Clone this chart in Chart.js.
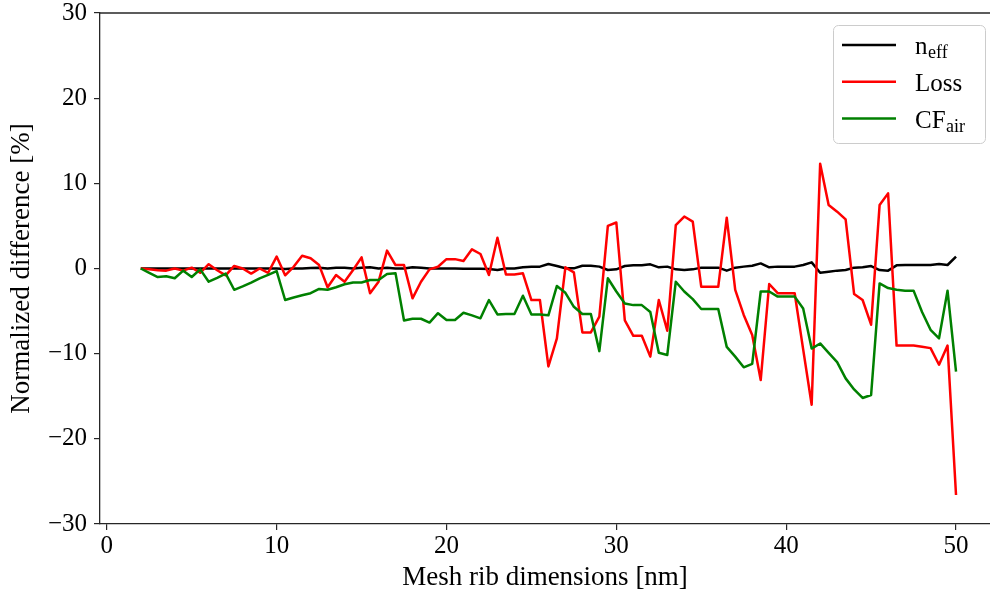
<!DOCTYPE html>
<html>
<head>
<meta charset="utf-8">
<script src="https://cdn.jsdelivr.net/npm/chart.js@4.4.1/dist/chart.umd.min.js"></script>
<style>
  html, body { margin: 0; padding: 0; background: #fff; }
  #chart { display: block; }
</style>
</head>
<body>
<canvas id="chart" width="990" height="596"></canvas>
<script>
// Mesh rib dimension [nm]
const ribSizes = [
  2, 2.5, 3, 3.5, 4, 4.5, 5, 5.5, 6, 6.5, 7, 7.5, 8, 8.5, 9, 9.5,
  10, 10.5, 11, 11.5, 12, 12.5, 13, 13.5, 14, 14.5, 15, 15.5, 16, 16.5, 17, 17.5,
  18, 18.5, 19, 19.5, 20, 20.5, 21, 21.5, 22, 22.5, 23, 23.5, 24, 24.5, 25, 25.5,
  26, 26.5, 27, 27.5, 28, 28.5, 29, 29.5, 30, 30.5, 31, 31.5, 32, 32.5, 33, 33.5,
  34, 34.5, 35, 35.5, 36, 36.5, 37, 37.5, 38, 38.5, 39, 39.5, 40, 40.5, 41, 41.5,
  42, 42.5, 43, 43.5, 44, 44.5, 45, 45.5, 46, 46.5, 47, 47.5, 48, 48.5, 49, 49.5, 50
];

// Normalized difference [%] for each quantity
const neffDiff = [
  0, 0, 0, 0, 0, 0, 0, 0, 0, 0, 0, 0, 0, 0, 0, 0,
  0, -0.05, 0, 0, 0.05, 0.1, 0, 0.1, 0.1, 0, 0.1, 0.14, 0, 0.1, 0, 0,
  0.14, 0.1, 0, 0, 0, 0, -0.03, -0.03, -0.03, -0.06, -0.18, 0, 0, 0.14, 0.2, 0.22,
  0.53, 0.29, 0.02, 0.02, 0.33, 0.33, 0.22, -0.18, -0.1, 0.29, 0.37, 0.37, 0.49, 0.14, 0.22, -0.1,
  -0.18, -0.1, 0.1, 0.1, 0.1, -0.25, 0.1, 0.22, 0.33, 0.6, 0.14, 0.22, 0.22, 0.22, 0.41, 0.72,
  -0.49, -0.37, -0.25, -0.18, 0.1, 0.14, 0.29, -0.18, -0.25, 0.37, 0.41, 0.41, 0.41, 0.41, 0.53, 0.41, 1.39
];
const lossDiff = [
  0, -0.1, -0.2, -0.25, 0, -0.25, 0.1, -0.5, 0.5, -0.2, -0.8, 0.3, 0, -0.6, 0, -0.5,
  1.4, -0.8, 0.2, 1.5, 1.2, 0.4, -2.2, -0.76, -1.55, -0.18, 1.31, -2.9, -1.55, 2.1, 0.4, 0.4,
  -3.5, -1.55, -0.1, 0.2, 1.1, 1.1, 0.88, 2.25, 1.7, -0.76, 3.6, -0.7, -0.7, -0.57, -3.7, -3.7,
  -11.5, -8.2, 0.14, -0.45, -7.5, -7.5, -5.66, 5.0, 5.4, -6.1, -7.9, -7.9, -10.35, -3.7, -7.3, 5.1,
  6.1, 5.5, -2.15, -2.15, -2.15, 5.97, -2.5, -5.45, -7.8, -13.1, -1.82, -2.9, -2.9, -2.9, -9.5, -16.0,
  12.3, 7.45, 6.67, 5.77, -3.0, -3.7, -6.6, 7.45, 8.82, -9.05, -9.05, -9.05, -9.2, -9.35, -11.3, -9.05, -26.6
];
const cfAirDiff = [
  0, -0.5, -1.0, -0.9, -1.15, -0.25, -1.0, -0.1, -1.55, -1.1, -0.6, -2.5, -2.1, -1.65, -1.15, -0.75,
  -0.3, -3.7, -3.4, -3.15, -2.9, -2.4, -2.5, -2.2, -1.85, -1.65, -1.65, -1.35, -1.35, -0.65, -0.57, -6.1,
  -5.9, -5.9, -6.35, -5.25, -6.05, -6.05, -5.2, -5.5, -5.85, -3.7, -5.4, -5.35, -5.35, -3.2, -5.4, -5.4,
  -5.5, -2.05, -2.85, -4.5, -5.35, -5.35, -9.7, -1.15, -2.7, -4.1, -4.3, -4.3, -5.1, -9.9, -10.15, -1.55,
  -2.7, -3.6, -4.75, -4.75, -4.75, -9.2, -10.35, -11.6, -11.2, -2.7, -2.7, -3.3, -3.3, -3.3, -4.7, -9.4,
  -8.8, -9.9, -11.0, -12.9, -14.2, -15.2, -14.85, -1.75, -2.3, -2.5, -2.6, -2.6, -5.1, -7.2, -8.2, -2.6, -12.1
];

// Legend text, split into main part and subscript
const seriesNames = ['n', 'Loss', 'CF'];
const seriesSubs = ['eff', '', 'air'];
const seriesColors = ['#000000', '#ff0000', '#008000'];

const xTicks = [0, 10, 20, 30, 40, 50];
const yTicks = [-30, -20, -10, 0, 10, 20, 30];

const serif = '"Liberation Serif", "DejaVu Serif", serif';
const axisColor = '#262626';

function toPoints(values) {
  return ribSizes.map((x, i) => ({ x: x, y: values[i] }));
}

// Top spine, the library only draws the left and bottom borders
const topSpine = {
  id: 'topSpine',
  afterDraw(chart) {
    const { ctx, chartArea } = chart;
    ctx.save();
    ctx.strokeStyle = axisColor;
    ctx.lineWidth = 1.3;
    ctx.beginPath();
    ctx.moveTo(chartArea.left, chartArea.top);
    ctx.lineTo(chartArea.right, chartArea.top);
    ctx.stroke();
    ctx.restore();
  }
};

// Boxed legend in the upper right with subscripted labels
const subLegend = {
  id: 'subLegend',
  afterDraw(chart) {
    const ctx = chart.ctx;
    const box = { x: 833, y: 25, w: 152, h: 118, r: 5 };
    ctx.save();
    ctx.beginPath();
    ctx.roundRect(box.x + 0.5, box.y + 0.5, box.w, box.h, box.r);
    ctx.fillStyle = 'rgba(255,255,255,0.8)';
    ctx.fill();
    ctx.strokeStyle = '#cccccc';
    ctx.lineWidth = 1;
    ctx.stroke();

    chart.data.datasets.forEach((ds, i) => {
      const rowY = box.y + 20 + i * 36.8;
      ctx.strokeStyle = seriesColors[i];
      ctx.lineWidth = 2.5;
      ctx.beginPath();
      ctx.moveTo(box.x + 9, rowY);
      ctx.lineTo(box.x + 63, rowY);
      ctx.stroke();

      const baseY = rowY + 9;
      ctx.fillStyle = '#000';
      ctx.textBaseline = 'alphabetic';
      ctx.textAlign = 'left';
      ctx.font = '25px ' + serif;
      ctx.fillText(seriesNames[i], box.x + 82, baseY);
      const w = ctx.measureText(seriesNames[i]).width;
      if (seriesSubs[i]) {
        ctx.font = '18px ' + serif;
        ctx.fillText(seriesSubs[i], box.x + 82 + w + 0.5, baseY + 4);
      }
    });
    ctx.restore();
  }
};

new Chart(document.getElementById('chart'), {
  type: 'line',
  data: {
    datasets: [
      { label: 'n_eff', data: toPoints(neffDiff), borderColor: seriesColors[0], order: 2 },
      { label: 'Loss', data: toPoints(lossDiff), borderColor: seriesColors[1], order: 1 },
      { label: 'CF_air', data: toPoints(cfAirDiff), borderColor: seriesColors[2], order: 0 }
    ]
  },
  options: {
    responsive: false,
    animation: false,
    devicePixelRatio: 1,
    layout: { padding: { top: 13, right: 0, bottom: 0, left: 0 }, autoPadding: false },
    elements: {
      point: { radius: 0 },
      line: { borderWidth: 2.5, tension: 0, fill: false, borderJoinStyle: 'round' }
    },
    plugins: {
      legend: { display: false },
      tooltip: { enabled: false }
    },
    scales: {
      x: {
        type: 'linear',
        min: -0.4,
        max: 52,
        afterBuildTicks: s => { s.ticks = xTicks.map(v => ({ value: v })); },
        afterFit: s => {
          s.height = 72;
          s.paddingLeft = 0;
          s.paddingRight = 0;
        },
        grid: { drawOnChartArea: false, drawTicks: true, tickLength: 6, tickColor: axisColor, lineWidth: 1.2 },
        border: { color: axisColor, width: 1.3 },
        ticks: {
          color: '#000',
          padding: 4,
          maxRotation: 0,
          autoSkip: false,
          font: { family: serif, size: 25, lineHeight: 1.0 }
        },
        title: {
          display: true,
          text: 'Mesh rib dimensions [nm]',
          color: '#000',
          font: { family: serif, size: 27, lineHeight: 1.2 },
          padding: { top: 0, bottom: 2 }
        }
      },
      y: {
        min: -30,
        max: 30,
        afterBuildTicks: s => { s.ticks = yTicks.map(v => ({ value: v })); },
        afterFit: s => {
          s.width = 100;
          s.paddingTop = 0;
          s.paddingBottom = 0;
        },
        grid: { drawOnChartArea: false, drawTicks: true, tickLength: 6, tickColor: axisColor, lineWidth: 1.2 },
        border: { color: axisColor, width: 1.3 },
        ticks: {
          color: '#000',
          padding: 7,
          font: { family: serif, size: 25, lineHeight: 1.0 },
          callback: v => (v < 0 ? '\u2212' + Math.abs(v) : String(v))
        },
        title: {
          display: true,
          text: 'Normalized difference [%]',
          color: '#000',
          font: { family: serif, size: 27, lineHeight: 1.2 },
          padding: { top: 6, bottom: 0 }
        }
      }
    }
  },
  plugins: [topSpine, subLegend]
});
</script>
</body>
</html>
